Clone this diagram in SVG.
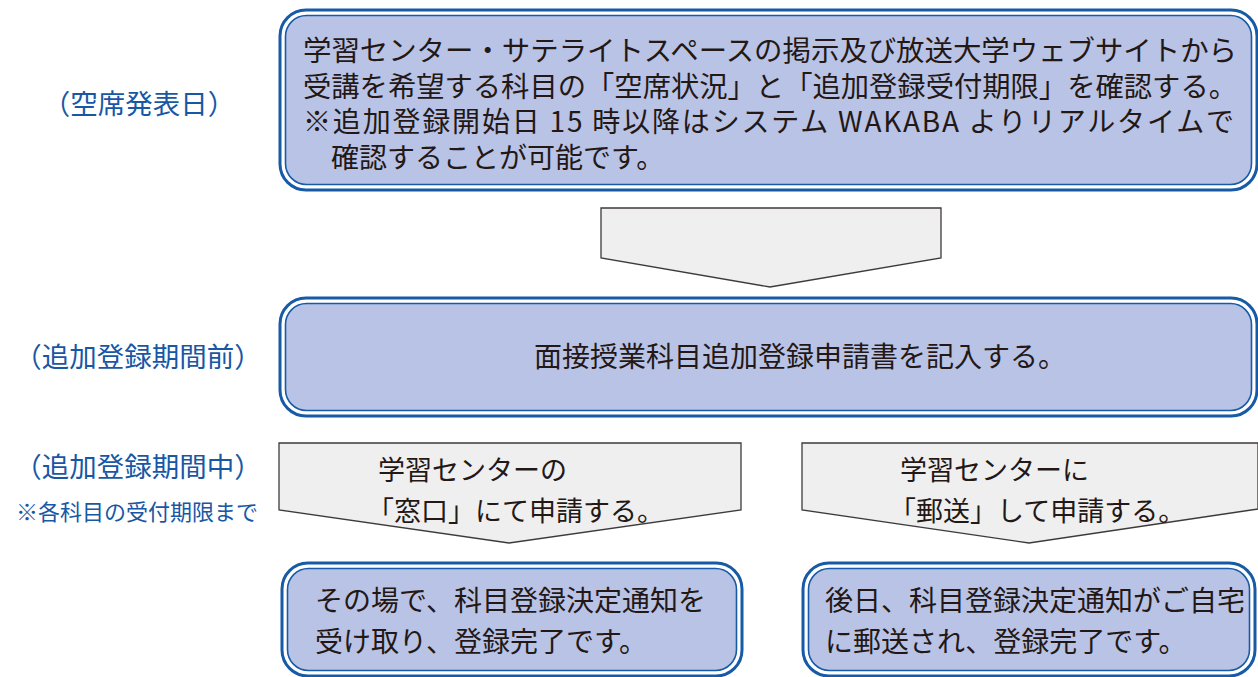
<svg xmlns="http://www.w3.org/2000/svg" width="1258" height="677" viewBox="0 0 1258 677">
  <style>
    .outer { fill: #ffffff; stroke: #175aa6; stroke-width: 3; }
    .inner { fill: #b9c3e5; stroke: #175aa6; stroke-width: 1.6; }
    .arrow { fill: #efefef; stroke: #3e3a39; stroke-width: 1.3; stroke-linejoin: miter; }
    .t { font-family: "Noto Sans CJK JP", "Noto Sans", sans-serif; fill: #231815; font-size: 28px; }
    .lbl { font-family: "Noto Sans CJK JP", "Noto Sans", sans-serif; fill: #1857a4; font-size: 27.5px; text-anchor: middle; }
    .note { font-family: "Noto Sans CJK JP", "Noto Sans", sans-serif; fill: #1857a4; font-size: 22px; }
  </style>
  <rect width="1258" height="677" fill="#ffffff"/>

  <g id="labels">
    <text class="lbl" x="139" y="114">（空席発表日）</text>
    <text class="lbl" x="138" y="367">（追加登録期間前）</text>
    <text class="lbl" x="138" y="477">（追加登録期間中）</text>
    <text class="note" x="16" y="520">※各科目の受付期限まで</text>
  </g>

  <g id="connectors">
    <polygon class="arrow" points="601,208 941,208 941,258 770,287 601,258"/>
    <polygon class="arrow" points="279,443 741,443 741,510 509,543 279,510"/>
    <polygon class="arrow" points="802,443 1258,443 1258,509 1029,543 802,510"/>
  </g>

  <g id="node-check">
    <rect class="outer" x="280" y="10" width="977" height="180" rx="26"/>
    <rect class="inner" x="285.5" y="15.5" width="966" height="169" rx="21"/>
    <text class="t" x="303" y="61" textLength="934" lengthAdjust="spacingAndGlyphs">学習センター・サテライトスペースの掲示及び放送大学ウェブサイトから</text>
    <text class="t" x="303" y="97" textLength="934" lengthAdjust="spacingAndGlyphs">受講を希望する科目の「空席状況」と「追加登録受付期限」を確認する。</text>
    <text class="t" x="303" y="132" textLength="931" lengthAdjust="spacing">※追加登録開始日 15 時以降はシステム WAKABA よりリアルタイムで</text>
    <text class="t" x="331" y="168">確認することが可能です。</text>
  </g>

  <g id="node-fill">
    <rect class="outer" x="280" y="298" width="977" height="118" rx="26"/>
    <rect class="inner" x="285.5" y="303.5" width="966" height="107" rx="21"/>
    <text class="t" x="534" y="367">面接授業科目追加登録申請書を記入する。</text>
  </g>

  <g id="node-window">
    <text class="t" x="378" y="480" style="font-size:27px">学習センターの</text>
    <text class="t" x="367" y="521" style="font-size:27px">「窓口」にて申請する。</text>
  </g>

  <g id="node-mail">
    <text class="t" x="900" y="480" style="font-size:27px">学習センターに</text>
    <text class="t" x="889" y="521" style="font-size:27px">「郵送」して申請する。</text>
  </g>

  <g id="node-done-window">
    <rect class="outer" x="282" y="563" width="460" height="113" rx="26"/>
    <rect class="inner" x="287.5" y="568.5" width="449" height="102" rx="21"/>
    <text class="t" x="315" y="611">その場で、科目登録決定通知を</text>
    <text class="t" x="315" y="652">受け取り、登録完了です。</text>
  </g>

  <g id="node-done-mail">
    <rect class="outer" x="803" y="563" width="452" height="113" rx="26"/>
    <rect class="inner" x="808.5" y="568.5" width="441" height="102" rx="21"/>
    <text class="t" x="825" y="611">後日、科目登録決定通知がご自宅</text>
    <text class="t" x="825" y="652">に郵送され、登録完了です。</text>
  </g>
</svg>
